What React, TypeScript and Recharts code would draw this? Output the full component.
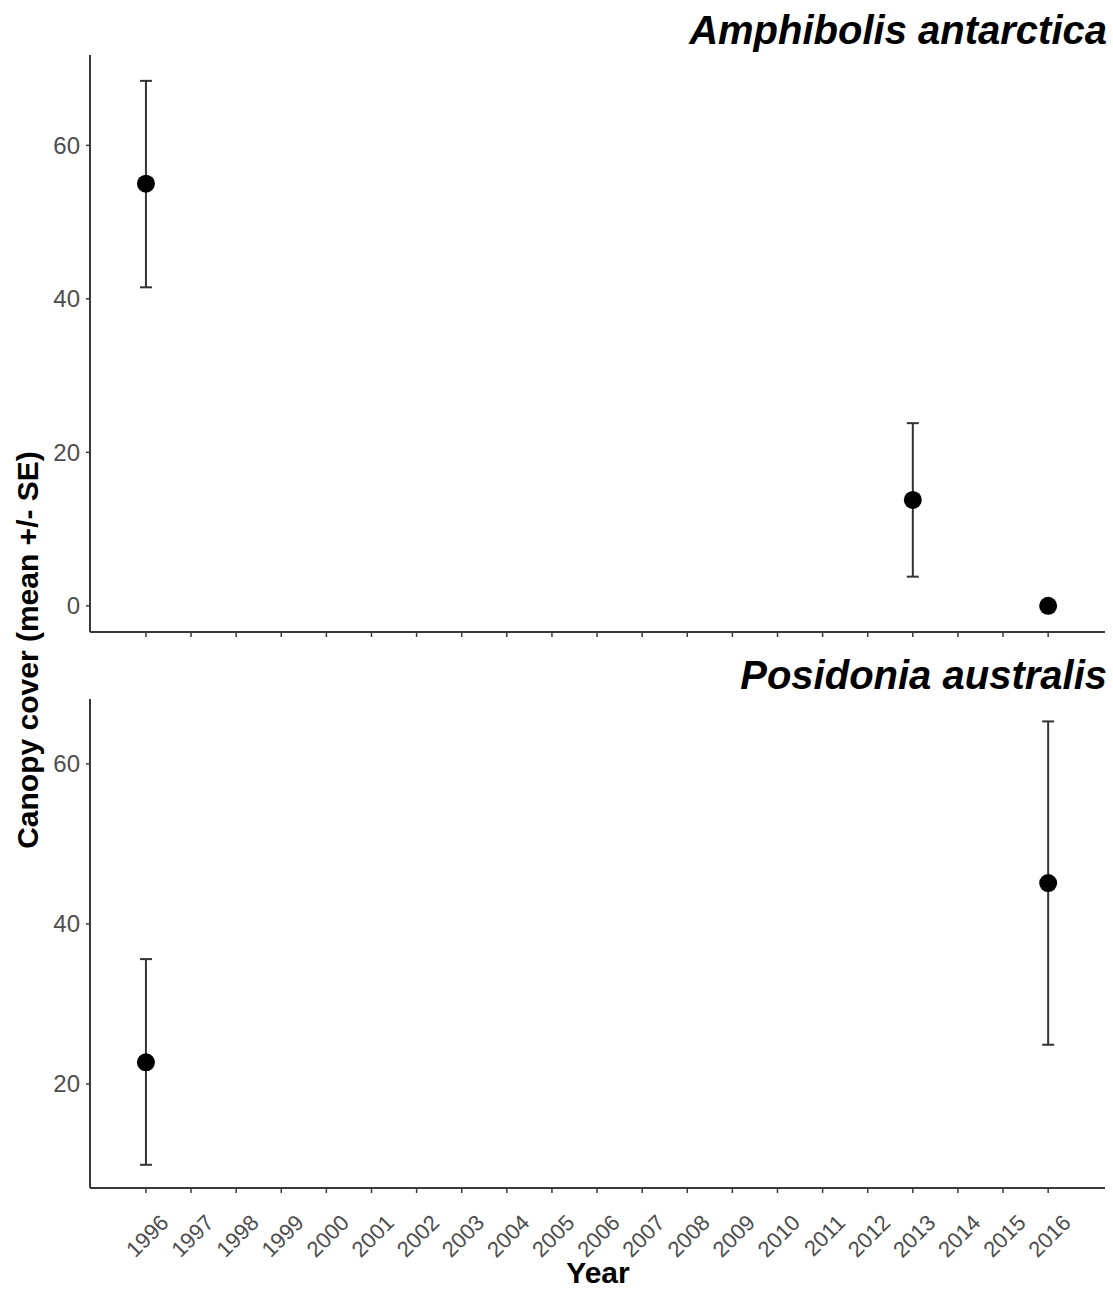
import React from 'react';
import { ComposedChart, Scatter, ErrorBar, XAxis, YAxis } from 'recharts';

const years = [1996, 1997, 1998, 1999, 2000, 2001, 2002, 2003, 2004, 2005, 2006, 2007, 2008, 2009, 2010, 2011, 2012, 2013, 2014, 2015, 2016];

// Amphibolis antarctica survey years and canopy cover (mean, lower, upper)
const amphYears = [1996, 2013, 2016];
const amphMean = [55.0, 13.8, 0.0];
const amphLower = [41.5, 3.8, 0.0];
const amphUpper = [68.4, 23.8, 0.0];

// Posidonia australis
const posiYears = [1996, 2016];
const posiMean = [22.7, 45.1];
const posiLower = [9.9, 24.9];
const posiUpper = [35.6, 65.3];

const amphTicks = [0, 20, 40, 60];
const posiTicks = [20, 40, 60];

const FONT = '"Liberation Sans", Arial, Helvetica, sans-serif';
const AXIS = '#3a3a3a';
const LABEL = '#4d4d4d';

const toRows = (ys: number[], mean: number[], lo: number[], hi: number[]) =>
  ys.map((year, i) => ({ year, mean: mean[i], err: [mean[i] - lo[i], hi[i] - mean[i]] }));

const amphData = toRows(amphYears, amphMean, amphLower, amphUpper);
const posiData = toRows(posiYears, posiMean, posiLower, posiUpper);

const Dot = (props: any) => <circle cx={props.cx} cy={props.cy} r={9} fill="#000" />;

// rotated year labels, right end hanging just below-right of the tick
const YearTick = (props: any) => {
  const { x, y, payload } = props;
  const ax = x + 24;
  const ay = y + 29;
  return (
    <text
      x={ax}
      y={ay}
      transform={`rotate(-45, ${ax}, ${ay})`}
      textAnchor="end"
      fontSize={22}
      fill={LABEL}
      fontFamily={FONT}
    >
      {payload.value}
    </text>
  );
};

const xDomain = [1994.76, 2017.26];

interface PanelProps {
  data: any[];
  domain: number[];
  ticks: number[];
  height: number;
  top: number;
  showLabels: boolean;
}

const Panel = ({ data, domain, ticks, height, top, showLabels }: PanelProps) => (
  <ComposedChart
    width={1113}
    height={height}
    data={data}
    margin={{ top, right: 8, bottom: 0, left: 0 }}
  >
    <XAxis
      dataKey="year"
      type="number"
      domain={xDomain}
      ticks={years}
      allowDataOverflow
      interval={0}
      height={showLabels ? 101 : 28}
      axisLine={{ stroke: AXIS, strokeWidth: 2 }}
      tickLine={{ stroke: AXIS, strokeWidth: 1.5 }}
      tickSize={5}
      tick={showLabels ? <YearTick /> : () => <g />}
    />
    <YAxis
      type="number"
      domain={domain}
      ticks={ticks}
      allowDataOverflow
      width={90}
      axisLine={{ stroke: AXIS, strokeWidth: 2 }}
      tickLine={{ stroke: AXIS, strokeWidth: 1.5 }}
      tickSize={4}
      tickMargin={6}
      tick={{ fill: LABEL, fontSize: 24, fontFamily: FONT }}
    />
    <Scatter dataKey="mean" shape={<Dot />} isAnimationActive={false}>
      <ErrorBar dataKey="err" direction="y" width={6} stroke="#333" strokeWidth={2} />
    </Scatter>
  </ComposedChart>
);

const titleStyle: React.CSSProperties = {
  position: 'absolute',
  right: 6,
  fontFamily: FONT,
  fontWeight: 'bold',
  fontStyle: 'italic',
  fontSize: 40,
  lineHeight: '40px',
  color: '#000',
  whiteSpace: 'nowrap',
};

export default function App() {
  return (
    <div style={{ position: 'absolute', left: 0, top: 0, width: 1113, height: 1289, background: '#fff', overflow: 'hidden' }}>
      <div style={{ position: 'absolute', left: 0, top: 0 }}>
        <Panel data={amphData} domain={[-3.41, 71.77]} ticks={amphTicks} height={660} top={55} showLabels={false} />
      </div>
      <div style={{ position: 'absolute', left: 0, top: 660 }}>
        <Panel data={posiData} domain={[7.0, 68.1]} ticks={posiTicks} height={629} top={39} showLabels />
      </div>
      <div style={{ ...titleStyle, top: 10 }}>Amphibolis antarctica</div>
      <div style={{ ...titleStyle, top: 655 }}>Posidonia australis</div>
      <div
        style={{
          position: 'absolute',
          left: 598,
          top: 1257,
          transform: 'translateX(-50%)',
          fontFamily: FONT,
          fontWeight: 'bold',
          fontSize: 30,
          lineHeight: '32px',
          whiteSpace: 'nowrap',
        }}
      >
        Year
      </div>
      <div
        style={{
          position: 'absolute',
          left: 28,
          top: 650,
          transform: 'translate(-50%, -50%) rotate(-90deg)',
          fontFamily: FONT,
          fontWeight: 'bold',
          fontSize: 30,
          lineHeight: '32px',
          whiteSpace: 'nowrap',
        }}
      >
        Canopy cover (mean +/- SE)
      </div>
    </div>
  );
}
